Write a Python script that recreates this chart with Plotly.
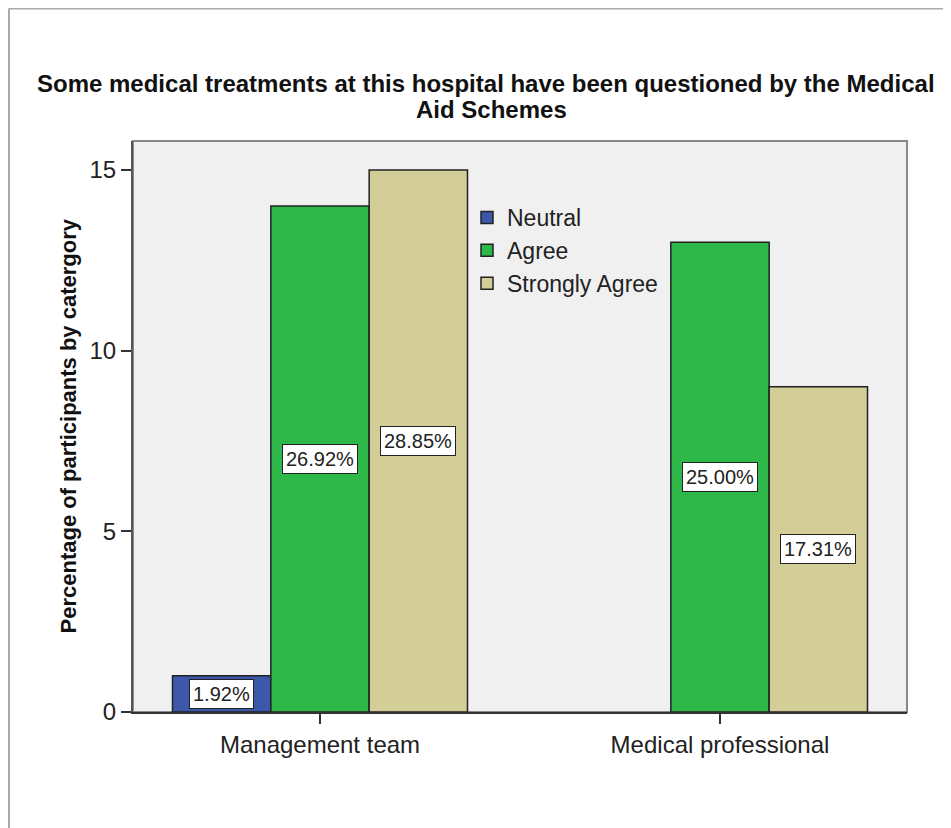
import plotly.graph_objects as go

categories = ["Management team", "Medical professional"]
series_names = ["Neutral", "Agree", "Strongly Agree"]
counts = {
    "Neutral": [1, None],
    "Agree": [14, 13],
    "Strongly Agree": [15, 9],
}
pct_labels = {
    "Neutral": ["1.92%", None],
    "Agree": ["26.92%", "25.00%"],
    "Strongly Agree": ["28.85%", "17.31%"],
}
colors = {"Neutral": "#3D57AB", "Agree": "#2FB84A", "Strongly Agree": "#D3CD98"}
y_ticks = [0, 5, 10, 15]
title_lines = [
    "Some medical treatments at this hospital have been questioned by the Medical",
    "Aid Schemes",
]
y_title = "Percentage of participants by catergory"

FONT = "Liberation Sans, Arial, sans-serif"
bargap = 0.2625
bar_w = (1 - bargap) / len(series_names)

# plot area in figure pixel coordinates
L, R, T, B = 125, 899, 133, 704
W, H = R - L, B - T

def px_x(x):
    return (x - L) / W

def px_y(y):
    return (B - y) / H

fig = go.Figure()
for s in series_names:
    fig.add_trace(go.Bar(
        name=s, x=categories, y=counts[s],
        marker=dict(color=colors[s], line=dict(color="#222222", width=1.5)),
    ))

annotations = []
for i, s in enumerate(series_names):
    for j, lab in enumerate(pct_labels[s]):
        if lab is None:
            continue
        annotations.append(dict(
            x=j + (i - 1) * bar_w, y=counts[s][j] / 2, xref="x", yref="y",
            text=lab, showarrow=False,
            font=dict(family=FONT, size=20, color="#222"),
            bgcolor="white", bordercolor="#222", borderwidth=1, borderpad=3,
        ))

annotations.append(dict(
    text="<b>" + y_title + "</b>", textangle=-90,
    xref="paper", yref="paper", x=px_x(60), y=0.5, xanchor="center", yanchor="middle",
    showarrow=False, font=dict(family=FONT, size=22, color="#111"),
))
for k, (line, cx, cy) in enumerate(zip(title_lines, [478, 483], [75, 101])):
    annotations.append(dict(
        text="<b>" + line + "</b>",
        xref="paper", yref="paper", x=px_x(cx), y=px_y(cy),
        xanchor="center", yanchor="middle", showarrow=False,
        font=dict(family=FONT, size=24, color="#111"),
    ))

shapes = [
    dict(type="rect", xref="paper", yref="paper", x0=0, x1=1, y0=0, y1=1,
         line=dict(color="#888888", width=2), layer="below"),
    dict(type="line", xref="paper", yref="paper", x0=px_x(1), x1=px_x(1),
         y0=px_y(0.5), y1=px_y(900), line=dict(color="#AAAAAA", width=2)),
    dict(type="line", xref="paper", yref="paper", x0=px_x(1), x1=px_x(1000),
         y0=px_y(0.5), y1=px_y(0.5), line=dict(color="#AAAAAA", width=2)),
]

fig.update_layout(
    width=951, height=828,
    margin=dict(l=L, r=951 - R, t=T, b=828 - B),
    paper_bgcolor="white", plot_bgcolor="#F0F0F0",
    barmode="group", bargap=bargap, bargroupgap=0,
    font=dict(family=FONT, size=24, color="#222"),
    showlegend=True,
    legend=dict(x=px_x(459), y=px_y(188), xanchor="left", yanchor="top",
                bgcolor="rgba(0,0,0,0)", font=dict(family=FONT, size=23, color="#222"),
                tracegroupgap=0, itemwidth=30),
    annotations=annotations, shapes=shapes,
    xaxis=dict(range=[-0.4675, 1.4675], showline=True, linecolor="#333", linewidth=2,
               ticks="outside", ticklen=10, tickcolor="#333", tickwidth=2,
               showgrid=False, zeroline=False, tickfont=dict(family=FONT, size=24, color="#222")),
    yaxis=dict(range=[0, 15.8], tickvals=y_ticks, showline=True, linecolor="#555", linewidth=2,
               ticks="outside", ticklen=10, tickcolor="#333", tickwidth=2,
               showgrid=False, zeroline=False, tickfont=dict(family=FONT, size=24, color="#222")),
)

fig.write_html("out.html")
